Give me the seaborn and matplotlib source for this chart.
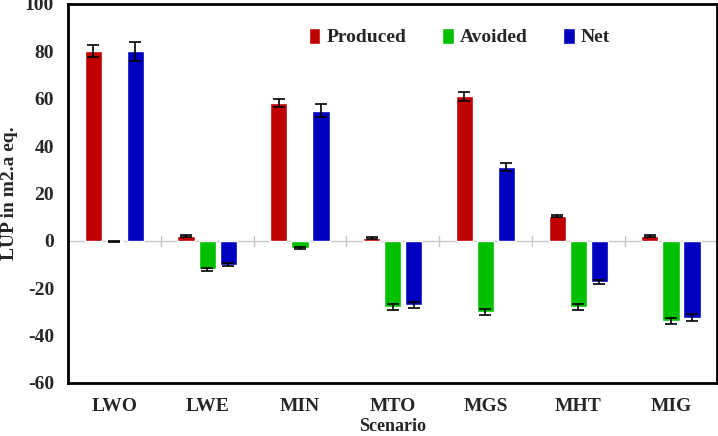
import matplotlib
matplotlib.use("Agg")
import matplotlib.pyplot as plt
import numpy as np
import pandas as pd
import seaborn as sns

# ======== data ========
scenarios = ["LWO", "LWE", "MIN", "MTO", "MGS", "MHT", "MIG"]
produced = [80, 2, 58, 1.2, 61, 10.5, 2]
avoided = [-0.3, -12, -3, -28, -30, -28, -34]
net = [80, -10, 55, -27, 31, -17.5, -32.5]
produced_err = [2.5, 0.5, 1.7, 0.3, 1.8, 0.5, 0.4]
avoided_err = [0.1, 0.7, 0.3, 1.3, 1.3, 1.3, 1.3]
net_err = [4.0, 0.5, 2.8, 1.2, 1.7, 0.8, 1.5]
series = ["Produced", "Avoided", "Net"]
colors = ["#C00000", "#00C000", "#0000C0"]

df = pd.DataFrame({
    "Scenario": scenarios * 3,
    "Type": [s for s in series for _ in scenarios],
    "LUP": produced + avoided + net,
})
errs = [produced_err, avoided_err, net_err]

sns.set_style("white")
plt.rcParams["font.family"] = ["Liberation Serif", "DejaVu Serif"]
plt.rcParams["font.weight"] = "bold"
plt.rcParams["axes.unicode_minus"] = False

fig = plt.figure(figsize=(7.18, 4.36), dpi=100)
ax = fig.add_axes([0.0947, 0.1216, 0.9043, 0.8694])

sns.barplot(data=df, x="Scenario", y="LUP", hue="Type", palette=colors,
            saturation=1, width=0.68, gap=0.18, errorbar=None, ax=ax, zorder=3)

# error bars at the end of each bar
for cont, e in zip(ax.containers, errs):
    xs = [p.get_x() + p.get_width() / 2 for p in cont]
    ys = [p.get_y() + p.get_height() for p in cont]
    ax.errorbar(xs, ys, yerr=e, fmt="none", ecolor="black", elinewidth=1.2,
                capsize=4, capthick=1.2, zorder=4)

# zero line and category separators
ax.axhline(0, color="#c8c8c8", lw=1, zorder=2)
for i in range(len(scenarios) - 1):
    ax.plot([i + 0.5, i + 0.5], [-2, 2], color="#c8c8c8", lw=1, zorder=2)

ax.set_ylim(-60, 100)
ax.set_xlim(-0.5, len(scenarios) - 0.5)
ax.set_yticks(np.arange(-60, 101, 20))
ax.tick_params(axis="y", length=4, color="#b0b0b0", width=1, pad=6, labelsize=14)
ax.tick_params(axis="x", length=0, pad=11, labelsize=14)
for lab in ax.get_xticklabels() + ax.get_yticklabels():
    lab.set_fontweight("bold")

ax.set_xlabel("Scenario", fontsize=13, fontweight="bold", labelpad=2)
ax.set_ylabel("LUP in m2.a eq.", fontsize=14, fontweight="bold", labelpad=5)

for s in ax.spines.values():
    s.set_color("black")
    s.set_linewidth(2)

ax.legend(loc="center", bbox_to_anchor=(0.603, 0.913), ncol=3, frameon=False,
          prop={"size": 14, "weight": "bold"}, handlelength=0.6, handleheight=0.9,
          handletextpad=0.3, columnspacing=1.85, title=None)

fig.savefig("out.png", dpi=100)
